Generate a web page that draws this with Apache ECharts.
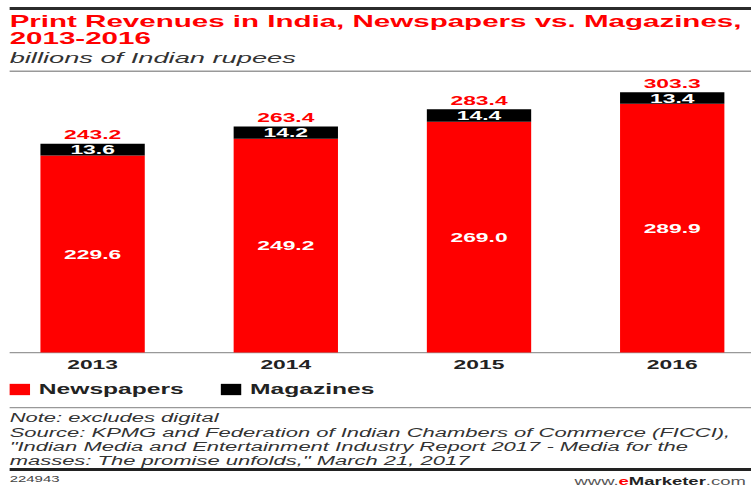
<!DOCTYPE html>
<html>
<head>
<meta charset="utf-8">
<title>Print Revenues in India</title>
<script src="https://cdn.jsdelivr.net/npm/echarts@6/dist/echarts.min.js"></script>
<style type="text/css">
html, body {
	margin: 0;
	padding: 0;
	background: #fff;
	overflow: hidden;
	width: 751px;
	height: 487px;
	position: relative;
}
/* the reference is a horizontally stretched picture, so the chart is drawn narrow and stretched */
#chart {
	position: absolute;
	left: -3.6px;
	top: 0;
	width: 450px;
	height: 487px;
	transform: scaleX(1.7588);
	transform-origin: 0 0;
}
</style>
</head>
<body>
<div id="chart"></div>
<script type="text/javascript">
	// data
	var years = ['2013', '2014', '2015', '2016'];
	var newspapers = [229.6, 249.2, 269.0, 289.9];
	var magazines = [13.6, 14.2, 14.4, 13.4];
	var totals = [243.2, 263.4, 283.4, 303.3];

	var noteLines = [
		'Note: excludes digital',
		'Source: KPMG and Federation of Indian Chambers of Commerce (FICCI),',
		'"Indian Media and Entertainment Industry Report 2017 - Media for the',
		'masses: The promise unfolds," March 21, 2017'
	];

	var FONT = '"Liberation Sans", Arial, sans-serif';
	var X0 = 7.75; // left text edge in the narrow space

	var chart = echarts.init(document.getElementById('chart'), null, {renderer: 'svg'});

	function fmt(p) {
		return p.value.toFixed(1);
	}

	var graphics = [
		// top dark rule
		{type: 'rect', shape: {x: X0, y: 7, width: 450, height: 3}, style: {fill: '#2b2b2b'}, silent: true},
		// two line title as one text
		{type: 'text', x: X0, y: 12.9, style: {text: 'Print Revenues in India, Newspapers vs. Magazines,\n2013-2016', font: 'bold 16.8px ' + FONT, lineHeight: 16.8, fill: '#ff0000', verticalAlign: 'top'}},
		{type: 'text', x: X0, y: 57.6, style: {text: 'billions of Indian rupees', font: 'italic 15.5px ' + FONT, fill: '#333', verticalAlign: 'middle'}},
		{type: 'rect', shape: {x: X0, y: 70.5, width: 450, height: 1.5}, style: {fill: '#999'}, silent: true},
		// baseline of the bars
		{type: 'rect', shape: {x: X0, y: 352, width: 450, height: 1.2}, style: {fill: '#999'}, silent: true},
		// rule above the notes
		{type: 'rect', shape: {x: X0, y: 407, width: 450, height: 1.2}, style: {fill: '#999'}, silent: true},
		// bottom dark rule
		{type: 'rect', shape: {x: X0, y: 468, width: 450, height: 3}, style: {fill: '#222'}, silent: true},
		{type: 'text', x: X0, y: 479.5, style: {text: '224943', font: '8.5px ' + FONT, fill: '#444', verticalAlign: 'middle'}},
		{type: 'text', x: 328.9, y: 481.5, style: {
			text: '{a|www.}{b|e}{c|Marketer}{a|.com}',
			verticalAlign: 'middle',
			rich: {
				a: {font: '10.5px ' + FONT, fill: '#555'},
				b: {font: 'bold 10.5px ' + FONT, fill: '#ff0000'},
				c: {font: 'bold 10.5px ' + FONT, fill: '#222'}
			}
		}}
	];
	var noteY = [418, 433, 447, 460.5];
	for (var i = 0; i < noteLines.length; i++) {
		graphics.push({type: 'text', x: X0, y: noteY[i], style: {text: noteLines[i], font: 'italic 12.5px ' + FONT, fill: '#333', verticalAlign: 'middle'}});
	}

	var option = {
		animation: false,
		backgroundColor: '#fff',
		textStyle: {fontFamily: FONT},
		graphic: graphics,
		legend: {
			data: ['Newspapers', 'Magazines'],
			left: X0,
			top: 382.5,
			padding: 0,
			icon: 'rect',
			itemWidth: 11.6,
			itemHeight: 11.3,
			itemGap: 21,
			selectedMode: false,
			textStyle: {fontSize: 14, fontWeight: 'bold', color: '#222', fontFamily: FONT}
		},
		grid: {
			left: 0,
			width: 439.4,
			top: 52.2,
			height: 300.3,
			containLabel: false
		},
		xAxis: {
			type: 'category',
			data: years,
			axisLine: {show: false},
			axisTick: {show: false},
			axisLabel: {
				margin: 5,
				fontSize: 13,
				fontWeight: 'bold',
				color: '#222',
				fontFamily: FONT
			}
		},
		yAxis: {
			type: 'value',
			min: 0,
			max: 350,
			show: false,
			splitLine: {show: false}
		},
		series: [
			{
				name: 'Newspapers',
				type: 'bar',
				stack: 'total',
				barWidth: '54%',
				itemStyle: {color: '#ff0000'},
				label: {show: true, position: 'inside', color: '#fff', fontSize: 13, fontWeight: 'bold', fontFamily: FONT, formatter: fmt},
				data: newspapers
			},
			{
				name: 'Magazines',
				type: 'bar',
				stack: 'total',
				barWidth: '54%',
				itemStyle: {color: '#000'},
				label: {show: true, position: 'inside', color: '#fff', fontSize: 13, fontWeight: 'bold', fontFamily: FONT, formatter: fmt},
				data: magazines
			},
			{
				name: 'Total',
				type: 'scatter',
				symbolSize: 1,
				itemStyle: {color: 'rgba(0,0,0,0)', opacity: 1},
				label: {show: true, position: 'top', distance: 2, color: '#ff0000', fontSize: 13, fontWeight: 'bold', fontFamily: FONT, formatter: fmt},
				data: totals
			}
		]
	};

	chart.setOption(option);
</script>
</body>
</html>
